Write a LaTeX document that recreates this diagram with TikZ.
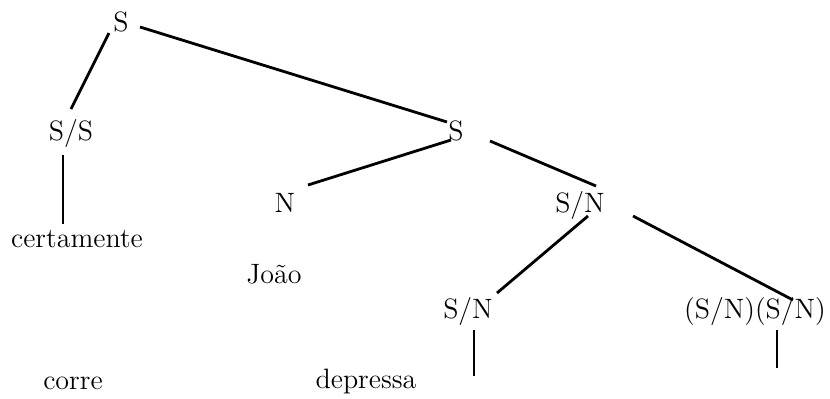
\documentclass[tikz,border=0pt]{standalone}
\usepackage{tikz}
\usetikzlibrary{calc}
\tikzset{
  cat/.style={anchor=base,inner sep=0pt,font=\fontsize{14}{17}\selectfont},
  br/.style={line width=1.4pt,black,line cap=butt}
}
\begin{document}
\begin{tikzpicture}[x=0.5pt,y=-0.5pt]
\useasboundingbox (0,0) rectangle (830,398);
% categories
\node[cat] (top) at (121,31) {S};
\node[cat] (ss) at (71,140) {S/S};
\node[cat] (mids) at (456,140) {S};
\node[cat] (n) at (285,212) {N};
\node[cat] (sna) at (580,212) {S/N};
\node[cat] (snb) at (468,318) {S/N};
\node[cat] (pair) at (755,318) {(S/N)(S/N)};
% words
\node[cat] (cert) at (77,247) {certamente};
\node[cat] (joao) at (274,283) {João};
\node[cat] (corre) at (73,389) {corre};
\node[cat] (dep) at (366,388) {depressa};
\coordinate (endb) at (474,376);
\coordinate (endp) at (777,368);
% branches
\draw[br] ($(top.base)+(-12,2)$) -- ($(ss.base)+(0,-31)$);
\draw[br] ($(top.base)+(19,-4)$) -- ($(mids.base)+(-9,-18)$);
\draw[br] ($(ss.base)+(-8,15)$) -- ($(cert.base)+(-14,-23)$);
\draw[br] ($(mids.base)+(-5,0)$) -- ($(n.base)+(23,-27)$);
\draw[br] ($(mids.base)+(34,1)$) -- ($(sna.base)+(16,-26)$);
\draw[br] ($(sna.base)+(8,4)$) -- ($(snb.base)+(29,-25)$);
\draw[br] ($(sna.base)+(53,4)$) -- ($(pair.base)+(38,-18)$);
\draw[br] ($(snb.base)+(6,12)$) -- (endb);
\draw[br] ($(pair.base)+(22,12)$) -- (endp);
\end{tikzpicture}
\end{document}
